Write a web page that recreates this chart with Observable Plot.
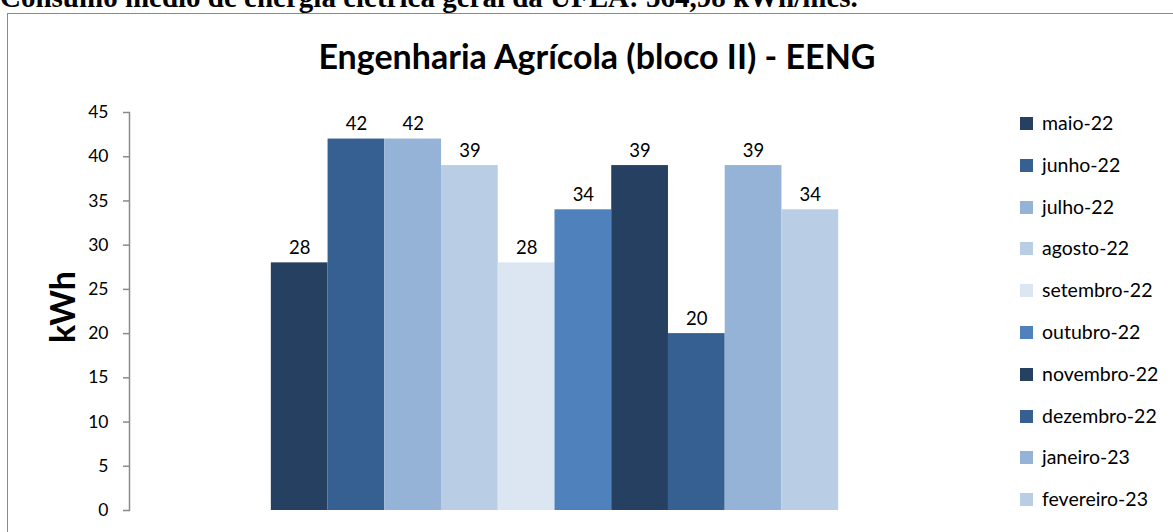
<!DOCTYPE html>
<html>
<head>
<meta charset="utf-8">
<script src="https://cdn.jsdelivr.net/npm/d3@7"></script>
<script src="https://cdn.jsdelivr.net/npm/@observablehq/plot@0.6"></script>
<style>
  html, body { margin: 0; padding: 0; background: #fff; }
  body { width: 1173px; height: 532px; overflow: hidden; position: relative; font-family: Lato, "Open Sans", sans-serif; }
  #toptext { position: absolute; left: 0; top: -17px; font-family: "Liberation Serif", serif; font-weight: bold; font-size: 29px; white-space: nowrap; color: #000; line-height: 29px; }
  #border { position: absolute; left: 7px; top: 13px; width: 1180px; height: 600px; border: 1.5px solid #8a8a8a; box-sizing: border-box; }
  #title { position: absolute; left: 0; width: 1194px; top: 36px; text-align: center; font-weight: bold; font-size: 34px; color: #000; line-height: 40px; }
  #ylabel { position: absolute; left: 62px; top: 307px; transform: translate(-50%, -50%) rotate(-90deg); font-weight: bold; font-size: 34px; color: #000; white-space: nowrap; line-height: 34px; }
  #chart { position: absolute; left: 0; top: 0; }
  #legend { position: absolute; left: 1020px; top: 110px; }
  .item { position: absolute; left: 0; height: 27px; white-space: nowrap; font-size: 19.5px; color: #000; }
  .sw { position: absolute; left: 0; top: 7px; width: 13px; height: 13px; }
  .lab { position: absolute; left: 22px; top: -1px; line-height: 27px; }
</style>
</head>
<body>
<div id="toptext">Consumo médio de energia elétrica geral da UFLA: 564,98 kWh/mês.</div>
<div id="border"></div>
<div id="title">Engenharia Agrícola (bloco II) - EENG</div>
<div id="chart"></div>
<div id="ylabel">kWh</div>
<div id="legend"></div>
<script>
const months = ["maio-22", "junho-22", "julho-22", "agosto-22", "setembro-22", "outubro-22", "novembro-22", "dezembro-22", "janeiro-23", "fevereiro-23"];
const values = [28, 42, 42, 39, 28, 34, 39, 20, 39, 34];
const colors = ["#264061", "#366092", "#95B3D7", "#B9CDE5", "#DCE6F2", "#4F81BD", "#264061", "#366092", "#95B3D7", "#B9CDE5"];
const yTicks = [0, 5, 10, 15, 20, 25, 30, 35, 40, 45];

const data = months.map((m, i) => ({month: m, value: values[i]}));

const chart = Plot.plot({
  width: 1173,
  height: 532,
  marginLeft: 129,
  marginRight: 193,
  marginTop: 112,
  marginBottom: 22,
  style: {fontFamily: "Lato, sans-serif", fontSize: "16px", color: "#000", background: "transparent", overflow: "visible"},
  x: {domain: months, paddingInner: 0, paddingOuter: 2.5, round: false, axis: null},
  y: {domain: [0, 45], axis: null},
  color: {domain: months, range: colors},
  marks: [
    Plot.barY(data, {x: "month", y: "value", fill: "month"}),
    Plot.text(data, {x: "month", y: "value", text: d => String(d.value), dy: -14.5, fontSize: 18.5, fill: "#000"}),
    Plot.axisY({ticks: yTicks, tickSize: 6, tickPadding: 15, stroke: "#8a8a8a", fill: "#000", label: null, fontSize: 17.5, strokeWidth: 1.5}),
    Plot.frame({anchor: "left", stroke: "#8a8a8a", strokeWidth: 1.5})
  ]
});
document.getElementById("chart").appendChild(chart);

const legend = document.getElementById("legend");
months.forEach((m, i) => {
  const it = document.createElement("div");
  it.className = "item";
  it.style.top = (i * 41.8) + "px";
  const sw = document.createElement("div");
  sw.className = "sw";
  sw.style.background = colors[i];
  const lab = document.createElement("div");
  lab.className = "lab";
  lab.textContent = m;
  it.appendChild(sw);
  it.appendChild(lab);
  legend.appendChild(it);
});
</script>
</body>
</html>
